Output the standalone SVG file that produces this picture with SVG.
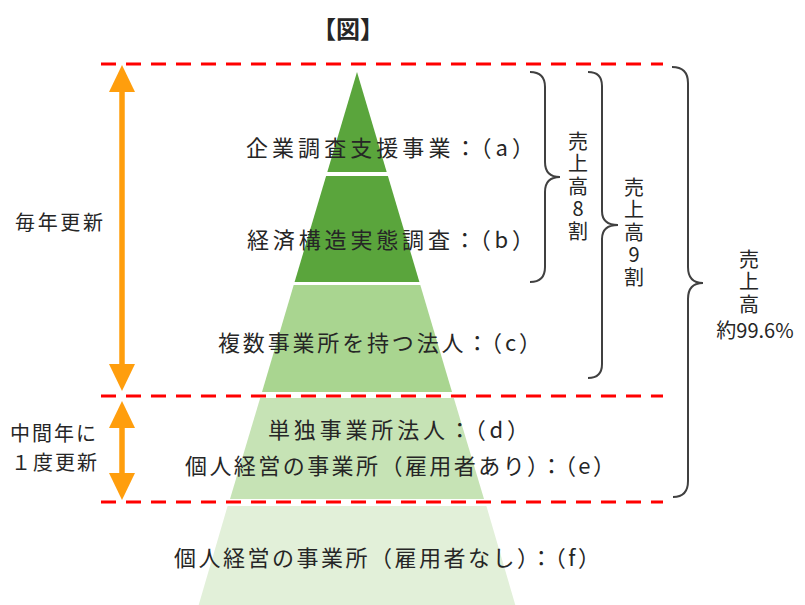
<svg xmlns="http://www.w3.org/2000/svg" width="805" height="605" viewBox="0 0 805 605">
<defs>
<style>
text{font-family:"Noto Sans CJK JP","Noto Sans",sans-serif;fill:#262626}
.lbl{font-size:22px}
.left{font-size:20px}
.side{font-size:20px}
.vert{font-size:20px;writing-mode:vertical-rl;text-orientation:upright;letter-spacing:2.5px}
.dash{stroke:#FF0000;stroke-width:3;stroke-dasharray:15 10;fill:none}
.brace{stroke:#404040;stroke-width:2;fill:none}
.arr{stroke:#FF9E0D;stroke-width:5.5;fill:none;marker-start:url(#ah);marker-end:url(#ah)}
</style>
<marker id="ah" markerUnits="userSpaceOnUse" markerWidth="28" markerHeight="26" refX="0" refY="13" orient="auto-start-reverse" viewBox="0 0 28 26">
<path d="M0,0 L27,13 L0,26 Z" fill="#FF9E0D"/>
</marker>
</defs>
<rect width="805" height="605" fill="#ffffff"/>
<text x="348" y="38" text-anchor="middle" style="font-size:24px;font-weight:bold">【図】</text>

<g id="layer-a"><polygon points="357,72 386.7,172 327.3,172" fill="#5AA53C"/><text class="lbl" x="246" y="156" textLength="288" lengthAdjust="spacing">企業調査支援事業：（a）</text></g>
<g id="layer-b"><polygon points="326.1,176 387.9,176 419.4,282 294.6,282" fill="#5AA53C"/><text class="lbl" x="247" y="248" textLength="287" lengthAdjust="spacing">経済構造実態調査：（b）</text></g>
<g id="layer-c"><polygon points="293.7,285 420.3,285 452,392 262,392" fill="#A9D590"/><text class="lbl" x="218" y="351" textLength="323" lengthAdjust="spacing">複数事業所を持つ法人：（c）</text></g>
<g id="layer-de"><polygon points="260.2,398 453.8,398 484,499 230,499" fill="#C6E3B5"/><text class="lbl" x="268" y="438" textLength="261" lengthAdjust="spacing">単独事業所法人：（d）</text><text class="lbl" x="185" y="474" textLength="430" lengthAdjust="spacing">個人経営の事業所（雇用者あり）：（e）</text></g>
<g id="layer-f"><polygon points="227.6,506 486.4,506 515.3,605 198.7,605" fill="#E2F0D9"/><text class="lbl" x="174" y="566" textLength="426" lengthAdjust="spacing">個人経営の事業所（雇用者なし）：（f）</text></g>

<g id="connectors">
<line class="dash" x1="101" y1="64" x2="663" y2="64"/>
<line class="dash" x1="101" y1="396" x2="663" y2="396"/>
<line class="dash" x1="101" y1="502" x2="663" y2="502"/>
<line class="arr" x1="122" y1="92" x2="122" y2="364"/>
<line class="arr" x1="122" y1="428" x2="122" y2="473"/>
<path class="brace" d="M530,72 Q545,72 545,87 L545,162 Q545,177 560,177 Q545,177 545,192 L545,267 Q545,282 530,282"/>
<path class="brace" d="M588,72 Q602,72 602,86 L602,211 Q602,225 618,225 Q602,225 602,239 L602,364 Q602,378 588,378"/>
<path class="brace" d="M672,67 Q688,67 688,83 L688,267 Q688,283 703,283 Q688,283 688,299 L688,481 Q688,497 673,497"/>
</g>

<g id="label-annual"><text class="left" x="15" y="230" textLength="88" lengthAdjust="spacing">毎年更新</text></g>
<g id="label-interim"><text class="left" x="10" y="441" textLength="86" lengthAdjust="spacing">中間年に</text><text class="left" x="11" y="470" textLength="86" lengthAdjust="spacing">１度更新</text></g>

<g id="label-80"><text class="vert" x="578" y="131">売上高8割</text></g>
<g id="label-90"><text class="vert" x="634" y="177">売上高9割</text></g>
<g id="label-996"><text class="vert" x="749" y="249">売上高</text><text class="side" x="755" y="338" text-anchor="middle">約99.6%</text></g>
</svg>
